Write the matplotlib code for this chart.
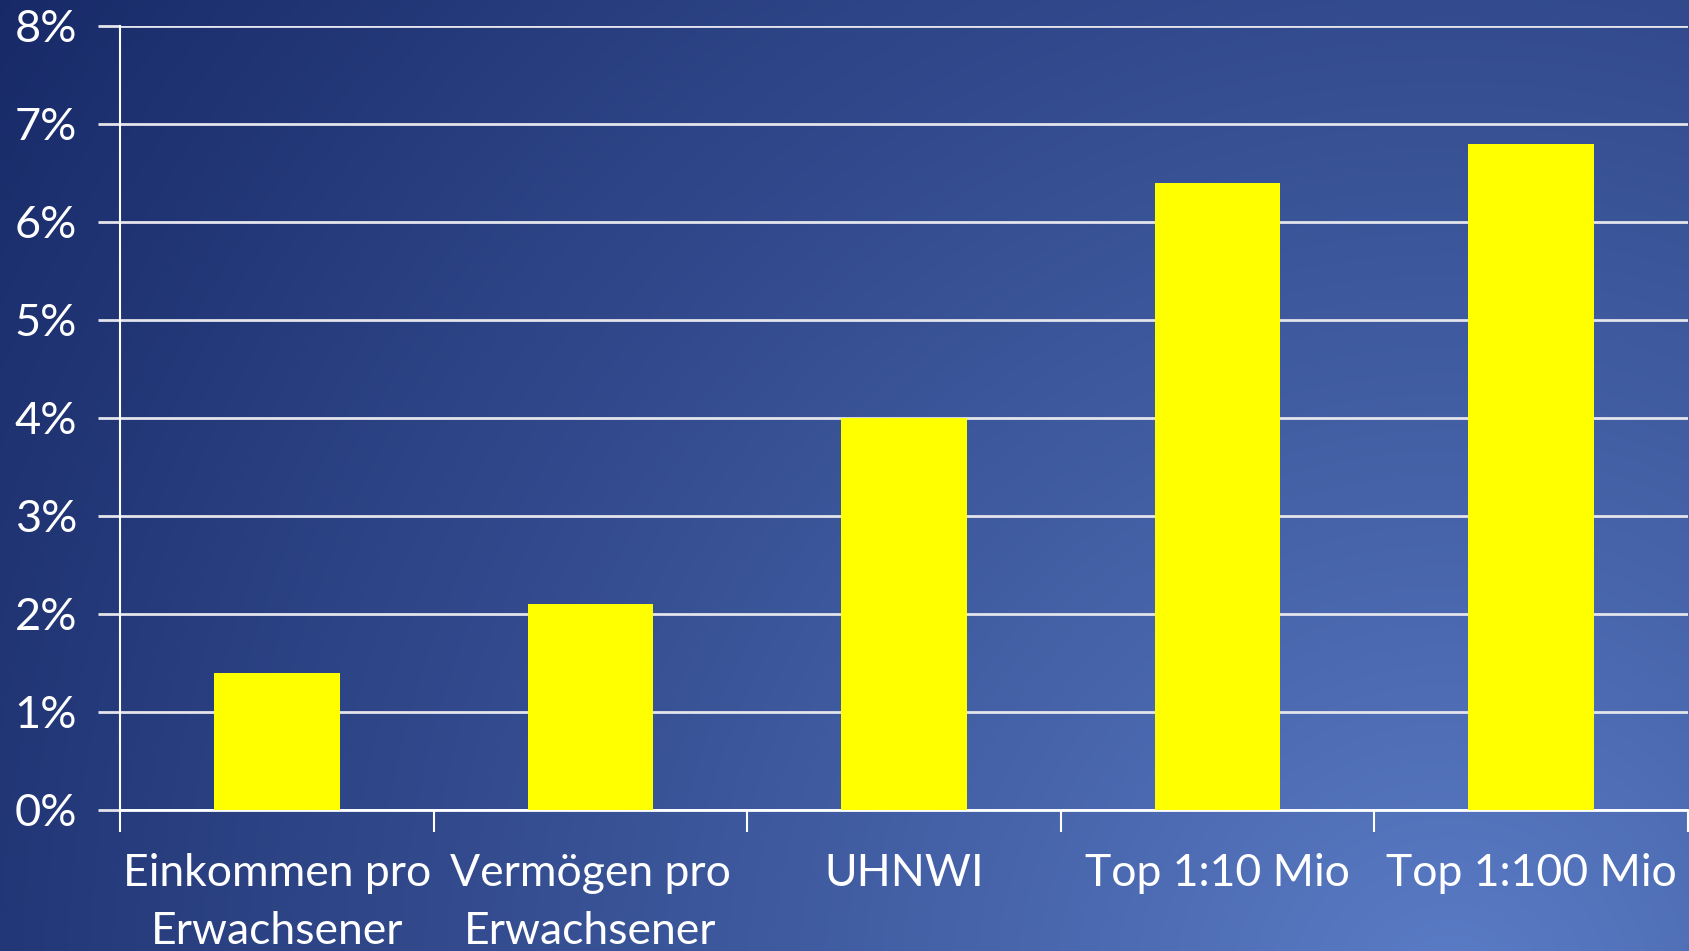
import numpy as np
import matplotlib
matplotlib.use("Agg")
import matplotlib.pyplot as plt
from matplotlib.ticker import FuncFormatter

categories = ["Einkommen pro\nErwachsener", "Vermögen pro\nErwachsener", "UHNWI",
              "Top 1:10 Mio", "Top 1:100 Mio"]
values = [1.4, 2.1, 4.0, 6.4, 6.8]
yticks = [0, 1, 2, 3, 4, 5, 6, 7, 8]

W, H = 1689, 951
fig = plt.figure(figsize=(W / 100, H / 100), dpi=100)

# background gradient
bg = fig.add_axes([0, 0, 1, 1], zorder=-10)
yy, xx = np.mgrid[0:H, 0:W]
cx, cy = 1450, 1000
d = np.sqrt((xx - cx) ** 2 + (yy - cy) ** 2)
t = np.clip(d / 1750.0, 0, 1) ** 0.9
light = np.array([92, 126, 200]) / 255
dark = np.array([24, 42, 104]) / 255
img = light[None, None, :] * (1 - t[..., None]) + dark[None, None, :] * t[..., None]
bg.imshow(img, aspect="auto", extent=[0, 1, 0, 1], origin="upper")
bg.axis("off")

plt.rcParams["font.family"] = ["Lato", "DejaVu Sans"]

left = 120 / W
right = 1688 / W
top = 1 - 26 / H
bottom = 1 - 810 / H
ax = fig.add_axes([left, bottom, right - left, top - bottom])
ax.patch.set_alpha(0)

x = np.arange(len(categories))
ax.bar(x, values, width=0.40, color="#ffff00", zorder=3)
ax.set_xlim(-0.5, len(categories) - 0.5)
ax.set_ylim(0, 8)
ax.set_yticks(yticks)
ax.yaxis.set_major_formatter(FuncFormatter(lambda v, p: f"{int(v)}%"))
ax.grid(axis="y", color="#e4e4ec", linewidth=2, zorder=1)
ax.set_xticks(x)
ax.set_xticklabels(categories, fontsize=32, color="white", linespacing=1.5)
ax.set_xticks(np.arange(-0.5, len(categories)), minor=True)
ax.tick_params(axis="x", which="major", length=0, pad=31)
ax.tick_params(axis="x", which="minor", length=16, width=1.5, color="white", direction="out")
ax.tick_params(axis="y", length=16, width=2, color="#e4e4ec", labelsize=32.5,
               labelcolor="white", pad=15)
for s in ["top", "right"]:
    ax.spines[s].set_visible(False)
ax.spines["left"].set_color("white")
ax.spines["left"].set_linewidth(1.5)
ax.spines["bottom"].set_color("white")
ax.spines["bottom"].set_linewidth(2)
ax.set_axisbelow(True)

fig.savefig("out.png", dpi=100)
